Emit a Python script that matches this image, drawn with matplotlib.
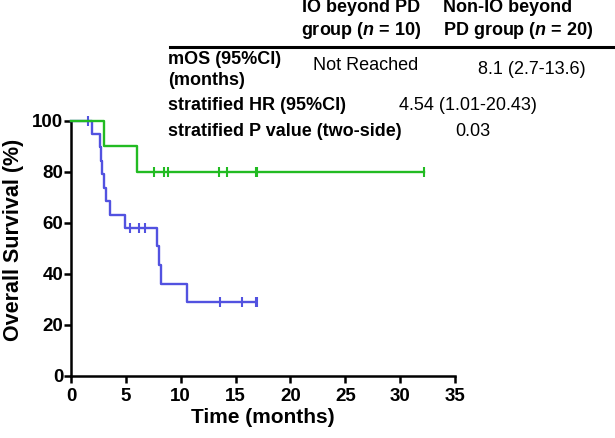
import numpy as np
import matplotlib
matplotlib.use("Agg")
import matplotlib.pyplot as plt
from matplotlib.lines import Line2D

plt.rcParams['font.family'] = ['Liberation Sans', 'DejaVu Sans']
plt.rcParams['mathtext.fontset'] = 'custom'
plt.rcParams['mathtext.it'] = 'Liberation Sans:bold:italic'
plt.rcParams['mathtext.rm'] = 'Liberation Sans:bold'

# Kaplan-Meier steps
io_times = [0, 3.05, 6.0]
io_surv = [100, 90, 80]
io_end = 32.2
io_censor = [7.6, 8.5, 8.85, 13.5, 14.2, 16.9, 16.95, 32.2]

nonio_times = [0, 1.95, 2.6, 2.7, 2.8, 3.0, 3.2, 3.6, 4.9, 7.8, 8.0, 8.2, 10.6]
nonio_surv = [100, 94.7, 89.5, 84.2, 78.9, 73.7, 68.4, 63.2, 57.9, 50.7, 43.4, 36.2, 29.0]
nonio_end = 16.9
nonio_censor = [1.55, 5.4, 6.2, 6.7, 13.6, 15.6, 16.9, 16.95]

x_ticks = [0, 5, 10, 15, 20, 25, 30, 35]
y_ticks = [0, 20, 40, 60, 80, 100]

green = '#22bb22'
blue = '#5252e0'

W, H = 615, 438
fig = plt.figure(figsize=(W / 100, H / 100), dpi=100)


def fx(px):
    return px / W


def fy(py):
    return 1 - py / H


ax = fig.add_axes([fx(71), fy(376), fx(455) - fx(71), fy(120.5) - fy(376)])


def km(times, surv, end, censor, color):
    t = np.r_[times, end]
    s = np.r_[surv, surv[-1]]
    ax.step(t, s, where='post', color=color, lw=1.7, clip_on=False, zorder=3)
    idx = np.searchsorted(times, censor, side='right') - 1
    ax.plot(censor, np.array(surv)[idx], ls='none', marker='|', ms=7, mew=1.5,
            color=color, clip_on=False, zorder=3)


km(nonio_times, nonio_surv, nonio_end, nonio_censor, blue)
km(io_times, io_surv, io_end, io_censor, green)

ax.set_xlim(0, 35)
ax.set_ylim(0, 100)
ax.set_xticks(x_ticks)
ax.set_yticks(y_ticks)
for side in ['top', 'right']:
    ax.spines[side].set_visible(False)
for side in ['left', 'bottom']:
    ax.spines[side].set_linewidth(1.8)
ax.tick_params(direction='out', length=5, width=1.8, labelsize=13.5)
ax.tick_params(axis='y', pad=0.5)
ax.tick_params(axis='x', pad=3.5)
for lab in ax.get_xticklabels() + ax.get_yticklabels():
    lab.set_fontweight('bold')
ax.set_xlabel('Time (months)', fontsize=15, fontweight='bold', labelpad=2)
ax.set_ylabel('Overall Survival (%)', fontsize=15.5, fontweight='bold')
ax.yaxis.set_label_coords(-0.122, 0.532)

# table above the plot
fs = 13
fig.text(fx(361), fy(20), 'IO beyond PD\ngroup ($n$ = 10)', ha='center', va='center',
         fontsize=fs, fontweight='bold', linespacing=1.3)
fig.text(fx(443), fy(20), 'Non-IO beyond\nPD group ($n$ = 20)', ha='left', va='center',
         fontsize=fs, fontweight='bold', linespacing=1.3)
fig.add_artist(Line2D([fx(170), fx(613)], [fy(47), fy(47)], color='black', lw=2.2))

fig.text(fx(168), fy(70), 'mOS (95%CI)\n(months)', ha='left', va='center',
         fontsize=fs, fontweight='bold', linespacing=1.25)
fig.text(fx(366), fy(65), 'Not Reached', ha='center', va='center', fontsize=fs)
fig.text(fx(532), fy(69), '8.1 (2.7-13.6)', ha='center', va='center', fontsize=fs)

fig.text(fx(168), fy(106), 'stratified HR (95%CI)', ha='left', va='center',
         fontsize=fs, fontweight='bold')
fig.text(fx(468), fy(106), '4.54 (1.01-20.43)', ha='center', va='center', fontsize=fs)

fig.text(fx(168), fy(132), 'stratified P value (two-side)', ha='left', va='center',
         fontsize=fs, fontweight='bold')
fig.text(fx(455), fy(132), '0.03', ha='left', va='center', fontsize=fs)

fig.savefig('out.png', dpi=100)
